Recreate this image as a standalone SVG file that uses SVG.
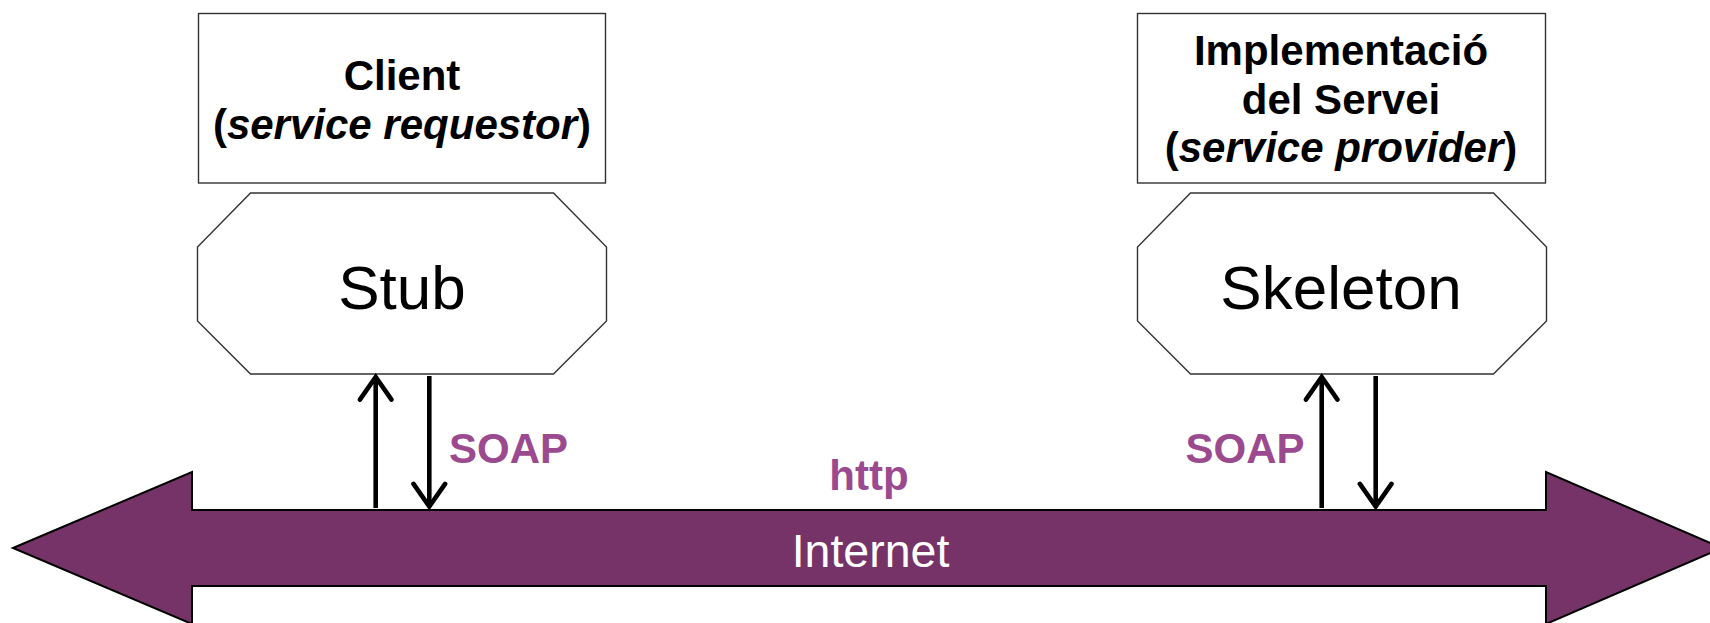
<svg xmlns="http://www.w3.org/2000/svg" width="1710" height="623" viewBox="0 0 1710 623">
  <style>
    text { font-family: "Liberation Sans", Arial, Helvetica, sans-serif; text-anchor: middle; }
    .box { fill: #ffffff; stroke: #333333; stroke-width: 1.4; }
    .title { font-size: 42px; font-weight: bold; fill: #000000; }
    .big { font-size: 62px; fill: #000000; }
    .proto { font-size: 42px; font-weight: bold; fill: #9b4a8f; }
    .net { font-size: 46.5px; fill: #ffffff; }
    .flow { stroke: #000000; stroke-width: 4.6; fill: none; marker-end: url(#head); }
    .bus { fill: #763368; stroke: #000000; stroke-width: 2; }
  </style>
  <defs>
    <!-- open arrowhead for the SOAP request/response lines -->
    <marker id="head" markerUnits="userSpaceOnUse" viewBox="-30 -22 36 44" refX="0" refY="0" markerWidth="36" markerHeight="44" orient="auto" overflow="visible">
      <path d="M -22.6 -15.8 L 0 0 L -22.6 15.8" fill="none" stroke="#000000" stroke-width="4.6" stroke-linecap="round" stroke-linejoin="miter"/>
    </marker>
    <polygon id="octagon" points="53,0 356,0 409,54 409,128 356,181 53,181 0,128 0,54"/>
  </defs>

  <!-- Internet: double-headed bus arrow -->
  <g id="internet">
    <polygon class="bus" points="13,548 192,472 192,510 1546,510 1546,472 1722,548 1546,624 1546,586 192,586 192,624"/>
    <text class="net" x="870.5" y="566.5">Internet</text>
  </g>

  <!-- client side -->
  <g id="client">
    <rect class="box" x="198.5" y="13.5" width="407" height="169.5"/>
    <text class="title" x="402" y="90">Client</text>
    <text class="title" x="402" y="138.5">(<tspan font-style="italic">service requestor</tspan>)</text>
  </g>
  <g id="stub">
    <use href="#octagon" class="box" x="197.5" y="193"/>
    <text class="big" x="402" y="308.5">Stub</text>
  </g>

  <!-- provider side -->
  <g id="provider">
    <rect class="box" x="1137.5" y="13.5" width="408" height="169.5"/>
    <text class="title" x="1341" y="65">Implementació</text>
    <text class="title" x="1341" y="113.5">del Servei</text>
    <text class="title" x="1341" y="162">(<tspan font-style="italic">service provider</tspan>)</text>
  </g>
  <g id="skeleton">
    <use href="#octagon" class="box" x="1137.5" y="193"/>
    <text class="big" x="1341" y="308.5">Skeleton</text>
  </g>

  <!-- SOAP messages between the proxies and the network -->
  <g id="connectors">
    <line class="flow" x1="375.7" y1="508" x2="375.7" y2="377"/>
    <line class="flow" x1="429.3" y1="376" x2="429.3" y2="506.5"/>
    <line class="flow" x1="1321.7" y1="508" x2="1321.7" y2="377"/>
    <line class="flow" x1="1375.7" y1="376" x2="1375.7" y2="506.5"/>
  </g>

  <g id="labels">
    <text class="proto" x="508.5" y="463">SOAP</text>
    <text class="proto" x="1245" y="463">SOAP</text>
    <text class="proto" x="869" y="490">http</text>
  </g>
</svg>
